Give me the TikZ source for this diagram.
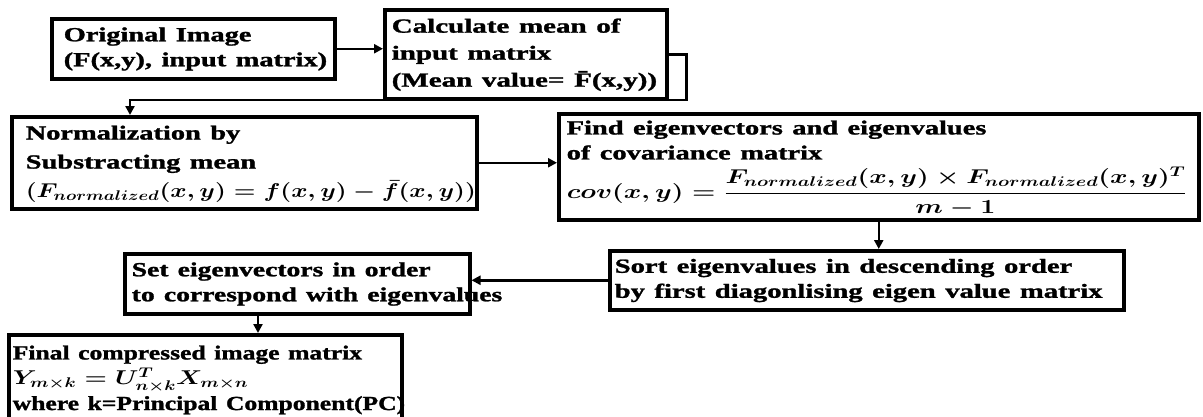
\RequirePackage{fix-cm}
\documentclass[tikz,border=0pt]{standalone}
\usepackage{amsmath}
\usepackage{graphicx}
\usepackage{fontspec}
\setmainfont{Liberation Serif}[BoldFeatures={FakeBold=1.2}]
\usetikzlibrary{arrows.meta}
\newcommand{\sx}[2][1.42]{\scalebox{#1}[1]{\begin{tabular}{@{}l@{}}#2\end{tabular}}}
\newcommand{\mx}[2]{\scalebox{#1}[1]{#2}}
\tikzset{
  box/.style={draw, line width=3.5pt, rectangle, anchor=north west, fill=white,
    inner ysep=0pt, align=left, font=\fontsize{20}{25}\selectfont\bfseries\boldmath},
  arr/.style={line width=2.5pt, -{Triangle[length=9pt,width=9pt]}},
}
\begin{document}
\begin{tikzpicture}[x=1pt,y=-1pt]
\useasboundingbox (0,0) rectangle (1203,416);
\node[box, inner xsep=12pt, minimum width=283pt, minimum height=60pt, text width=259pt] (b1) at (50,17)
  {\sx[1.42]{Original Image\\(F(x,y), input matrix)}};
\node[box, inner xsep=7pt, minimum width=282pt, minimum height=89pt, text width=268pt,
  font=\fontsize{20}{27}\selectfont\bfseries\boldmath] (b2) at (383,8)
  {\sx[1.45]{Calculate mean of\\input matrix\\(Mean value= \={F}(x,y))}};
\node[box, inner xsep=14pt, minimum width=465pt, minimum height=92pt, text width=437pt,
  font=\fontsize{20}{29}\selectfont\bfseries\boldmath] (b3) at (10,115)
  {\sx[1.42]{Normalization by\\Substracting mean\\\mx{0.875}{$(F_{normalized}(x,y) = f(x,y) - \bar{f}(x,y))$}}};
\node[box, inner xsep=8pt, minimum width=640pt, minimum height=106pt, text width=624pt] (b4) at (557,112)
  {\sx[1.42]{Find eigenvectors and eigenvalues\\of covariance matrix\\\mx{0.94}{$\displaystyle cov(x,y) = \frac{F_{normalized}(x,y)\times F_{normalized}(x,y)^T}{m-1}$}}};
\node[box, inner xsep=5pt, minimum width=514pt, minimum height=59pt, text width=504pt] (b5) at (608,249)
  {\sx[1.43]{Sort eigenvalues in descending order\\by first diagonlising eigen value matrix}};
\node[box, inner xsep=7pt, minimum width=345pt, minimum height=60pt, text width=331pt] (b6) at (123,252)
  {\sx[1.38]{Set eigenvectors in order\\to correspond with eigenvalues}};
\node[box, inner xsep=4pt, minimum width=393pt, minimum height=90pt, text width=385pt] (b7) at (7,333)
  {\sx[1.28]{Final compressed image matrix\\\mx{1.0}{$Y_{m\times k} = U^T_{n\times k}X_{m\times n}$}\\where k=Principal Component(PC)}};
\coordinate (t3) at (130,100);
\coordinate (t7) at (258,320);
\draw[arr] (b1.east) -- (b1.east -| b2.west);
\draw[arr] (b2.east) -- ++(18,0) |- (t3) -- (t3 |- b3.north);
\draw[arr] (b3.east) -- (b3.east -| b4.west);
\draw[arr] (b4.south) -- (b4.south |- b5.north);
\draw[arr] (b5.west) -- (b5.west -| b6.east);
\draw[arr] (t7 |- b6.south) -- (t7 |- b7.north);
\end{tikzpicture}
\end{document}
